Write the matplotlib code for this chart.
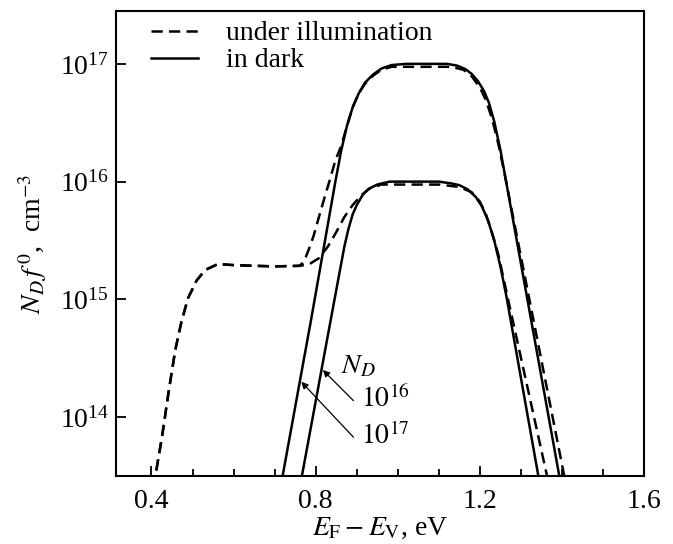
import numpy as np
import matplotlib
matplotlib.use("Agg")
import matplotlib.pyplot as plt
from matplotlib.ticker import MultipleLocator, LogFormatterMathtext, FixedLocator

plt.rcParams['font.family'] = ['Liberation Serif', 'DejaVu Serif']
plt.rcParams['mathtext.fontset'] = 'stix'

# curves: energy (eV) and log10 of N_D f0 (cm^-3)
# shared left part of both illuminated curves
illum_left_x = [0.405, 0.410, 0.426, 0.442, 0.458, 0.473, 0.489, 0.510, 0.531, 0.562, 0.604, 0.700, 0.761]
illum_left_lg = [13.40, 13.51, 13.84, 14.22, 14.57, 14.81, 15.01, 15.16, 15.25, 15.30, 15.29, 15.28, 15.285]

# N_D = 1e17, in dark
dark17_x = [0.714, 0.720, 0.790, 0.848, 0.862, 0.876, 0.890, 0.905, 0.920, 0.940, 0.960, 0.985, 1.020,
            1.120, 1.145, 1.165, 1.180, 1.195, 1.210, 1.222, 1.235, 1.250, 1.393, 1.399]
dark17_lg = [13.40, 13.51, 14.85, 16.00, 16.26, 16.47, 16.63, 16.75, 16.84, 16.91, 16.96, 16.99, 17.00,
             17.00, 16.985, 16.955, 16.915, 16.855, 16.77, 16.67, 16.51, 16.27, 13.51, 13.40]

# N_D = 1e17, under illumination (after the shared part)
ill17_x = [0.768, 0.776, 0.785, 0.795, 0.808, 0.822, 0.835, 0.848, 0.862, 0.876, 0.890, 0.905, 0.920,
           0.940, 0.960, 0.985, 1.130, 1.160, 1.180, 1.200, 1.215, 1.230, 1.245, 1.260, 1.405, 1.411]
ill17_lg = [15.31, 15.36, 15.44, 15.54, 15.70, 15.87, 16.02, 16.18, 16.30, 16.47, 16.63, 16.75, 16.83,
            16.90, 16.95, 16.975, 16.975, 16.95, 16.895, 16.80, 16.69, 16.53, 16.32, 16.07, 13.51, 13.40]

# N_D = 1e16, in dark
dark16_x = [0.761, 0.767, 0.830, 0.870, 0.880, 0.890, 0.900, 0.915, 0.930, 0.950, 0.980, 1.100, 1.130,
            1.150, 1.170, 1.190, 1.205, 1.220, 1.235, 1.250, 1.265, 1.342, 1.348]
dark16_lg = [13.40, 13.51, 14.70, 15.45, 15.60, 15.72, 15.80, 15.89, 15.94, 15.975, 16.00, 16.00, 15.985,
             15.97, 15.935, 15.87, 15.79, 15.67, 15.50, 15.28, 15.02, 13.51, 13.40]

# N_D = 1e16, under illumination (after the shared part)
ill16_x = [0.785, 0.808, 0.830, 0.850, 0.870, 0.890, 0.910, 0.930, 0.960, 1.100, 1.150, 1.180,
           1.200, 1.215, 1.230, 1.245, 1.260, 1.270, 1.363, 1.369]
ill16_lg = [15.30, 15.35, 15.45, 15.57, 15.70, 15.80, 15.88, 15.94, 15.975, 15.975, 15.955, 15.91,
            15.83, 15.72, 15.56, 15.38, 15.14, 14.98, 13.51, 13.40]

ill17_x = illum_left_x + ill17_x
ill17_lg = illum_left_lg + ill17_lg
ill16_x = illum_left_x + ill16_x
ill16_lg = illum_left_lg + ill16_lg

fig = plt.figure(figsize=(6.73, 5.44), dpi=100)
ax = fig.add_axes([0.172, 0.125, 0.785, 0.855])

lw = 1.8
dash = (0, (4.5, 2.5))
ax.plot(ill17_x, 10 ** np.array(ill17_lg), color='black', lw=lw, ls=dash, label='under illumination')
ax.plot(ill16_x, 10 ** np.array(ill16_lg), color='black', lw=lw, ls=dash)
ax.plot(dark17_x, 10 ** np.array(dark17_lg), color='black', lw=lw, label='in dark')
ax.plot(dark16_x, 10 ** np.array(dark16_lg), color='black', lw=lw)

ax.set_yscale('log')
ax.set_xlim(0.313, 1.6)
ax.set_ylim(10 ** 13.5, 10 ** 17.45)

ax.xaxis.set_major_locator(FixedLocator([0.4, 0.8, 1.2, 1.6]))
ax.xaxis.set_minor_locator(MultipleLocator(0.1))
ax.xaxis.set_major_formatter(matplotlib.ticker.FormatStrFormatter('%.1f'))
ax.yaxis.set_major_locator(FixedLocator([1e14, 1e15, 1e16, 1e17]))
ax.yaxis.set_minor_locator(FixedLocator([]))
ax.yaxis.set_major_formatter(LogFormatterMathtext())

ax.tick_params(which='both', direction='in', top=False, right=False, width=1.3, labelsize=20)
ax.tick_params(axis='x', which='major', length=7, pad=9)
ax.tick_params(axis='x', which='minor', length=4.8)
ax.tick_params(axis='y', which='major', length=7, pad=5)
for s in ax.spines.values():
    s.set_linewidth(1.5)

ax.set_xlabel(r'$E_{\rm F} - E_{\rm V}$, eV', fontsize=20, labelpad=2)
ax.set_ylabel(r'$N_D\,f^{\,0}$,  cm$^{-3}$', fontsize=20, labelpad=8)

ax.legend(loc='upper left', bbox_to_anchor=(0.03, 1.02), frameon=False, fontsize=20,
          handlelength=1.7, handletextpad=1.0, labelspacing=0.05, borderaxespad=0.3)

# N_D labels with arrows
ax.text(0.9035, 10 ** 14.43, r'$N_D$', fontsize=20, ha='center', va='center')
ax.text(0.9116, 10 ** 14.15, r'$10^{16}$', fontsize=20, ha='left', va='center')
ax.text(0.9116, 10 ** 13.84, r'$10^{17}$', fontsize=20, ha='left', va='center')
arrow = dict(arrowstyle='-|>', color='black', lw=0.9, mutation_scale=10, shrinkA=0, shrinkB=0)
ax.annotate('', xy=(0.8175, 10 ** 14.40), xytext=(0.892, 10 ** 14.14), arrowprops=arrow)
ax.annotate('', xy=(0.765, 10 ** 14.30), xytext=(0.892, 10 ** 13.83), arrowprops=arrow)

fig.savefig('out.png', dpi=100)
